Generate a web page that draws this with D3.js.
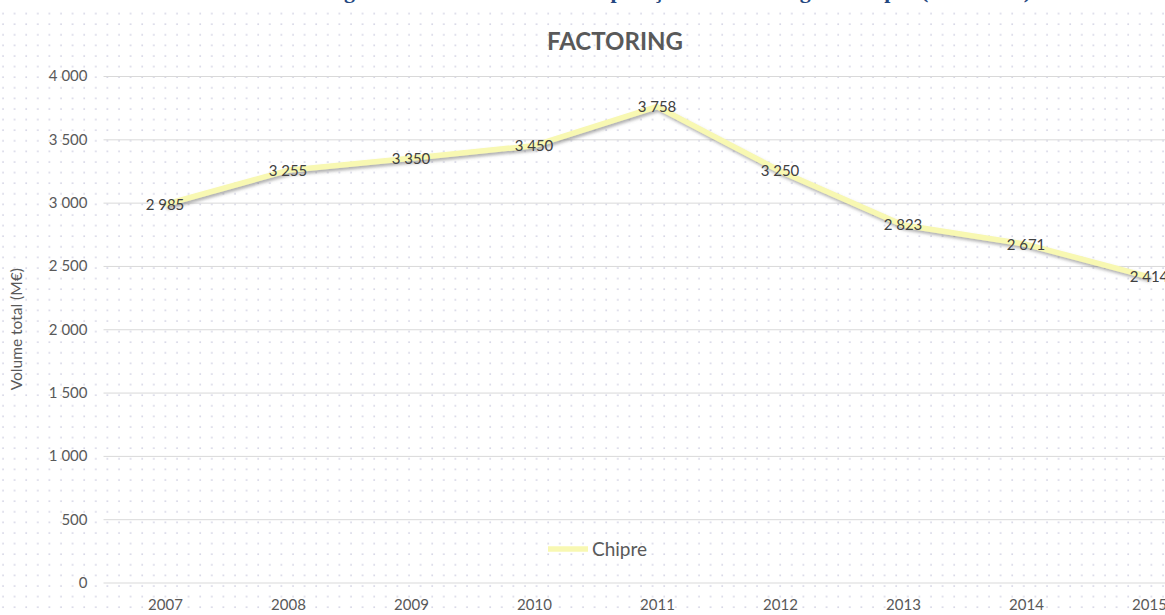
<!DOCTYPE html>
<html>
<head>
<meta charset="utf-8">
<script src="https://cdn.jsdelivr.net/npm/d3@7"></script>
<style>
  html, body { margin: 0; padding: 0; background: #ffffff; overflow: hidden; }
  svg { display: block; }
</style>
</head>
<body>
<svg id="chart" width="1165" height="615"></svg>
<script>
// Factoring volume in Cyprus, yearly totals (M€)
const years = ["2007", "2008", "2009", "2010", "2011", "2012", "2013", "2014", "2015"];
const volume = [2985, 3255, 3350, 3450, 3758, 3250, 2823, 2671, 2414];
const yTicks = [0, 500, 1000, 1500, 2000, 2500, 3000, 3500, 4000];
const seriesName = "Chipre";
const chartTitle = "FACTORING";
const yTitle = "Volume total (M€)";
const caption = "Figura 12 – Volume total das operações de factoring em Chipre (2007-2015)";

const W = 1165, H = 615;
const plot = { left: 103.5, right: 1210.5, top: 76, bottom: 582.5 };

const locale = d3.formatLocale({ decimal: ",", thousands: "\u00a0", grouping: [3], currency: ["", " €"] });
const fmt = locale.format(",d");

const svg = d3.select("#chart");
const defs = svg.append("defs");

// dotted chart-area fill
const pat = defs.append("pattern")
  .attr("id", "dots").attr("patternUnits", "userSpaceOnUse")
  .attr("width", 11.6).attr("height", 10.6);
pat.append("circle").attr("cx", 3).attr("cy", 3).attr("r", 0.9).attr("fill", "#cdcde0");

// soft shadow under the series line
const shadow = defs.append("filter").attr("id", "lineShadow")
  .attr("x", "-5%").attr("y", "-20%").attr("width", "110%").attr("height", "140%");
shadow.append("feDropShadow").attr("dx", 1.5).attr("dy", 2.5).attr("stdDeviation", 1.6)
  .attr("flood-color", "#6f6f6f").attr("flood-opacity", 0.55);

// caption line of the surrounding document, mostly above the frame
svg.append("text")
  .attr("x", 1031).attr("y", -2)
  .attr("text-anchor", "end")
  .attr("font-family", "'Liberation Serif', 'DejaVu Serif', serif")
  .attr("font-size", 22).attr("font-weight", "bold")
  .attr("fill", "#24477f")
  .text(caption);

// chart area
svg.append("rect").attr("x", 0).attr("y", 12).attr("width", W).attr("height", H - 12)
  .attr("fill", "#ffffff");
svg.append("rect").attr("x", 0).attr("y", 12).attr("width", W).attr("height", H - 12)
  .attr("fill", "url(#dots)");

const x = d3.scalePoint().domain(years).range([plot.left, plot.right]).padding(0.5);
const y = d3.scaleLinear().domain([0, 4000]).range([plot.bottom, plot.top]);

// value axis with gridlines
const yAxis = svg.append("g")
  .attr("transform", `translate(${plot.left},0)`)
  .call(d3.axisLeft(y).tickValues(yTicks).tickFormat(fmt)
    .tickSizeInner(-(plot.right - plot.left)).tickSizeOuter(0).tickPadding(16));
yAxis.select(".domain").remove();
yAxis.selectAll(".tick line").attr("stroke", "#d9d9d9").attr("stroke-width", 1);
yAxis.selectAll(".tick text")
  .attr("font-family", "Lato, 'Open Sans', sans-serif").attr("font-size", 15)
  .attr("fill", "#595959");

// category axis
const xAxis = svg.append("g")
  .attr("transform", `translate(0,${plot.bottom})`)
  .call(d3.axisBottom(x).tickSize(0).tickPadding(17));
xAxis.select(".domain").remove();
xAxis.selectAll(".tick text")
  .attr("font-family", "Lato, 'Open Sans', sans-serif").attr("font-size", 15)
  .attr("fill", "#595959");

// series line
const line = d3.line().x((d, i) => x(years[i])).y(d => y(d));
svg.append("path")
  .datum(volume)
  .attr("d", line)
  .attr("fill", "none")
  .attr("stroke", "#f8f8b2")
  .attr("stroke-width", 5.5)
  .attr("stroke-linejoin", "round")
  .attr("filter", "url(#lineShadow)");

// data labels centred on each point
svg.append("g").selectAll("text")
  .data(volume)
  .join("text")
  .attr("x", (d, i) => x(years[i]))
  .attr("y", d => y(d))
  .attr("dy", "0.35em")
  .attr("text-anchor", "middle")
  .attr("font-family", "Lato, 'Open Sans', sans-serif").attr("font-size", 15)
  .attr("fill", "#404040")
  .text(d => fmt(d));

// chart title
svg.append("text")
  .attr("x", 615).attr("y", 50)
  .attr("text-anchor", "middle")
  .attr("font-family", "Lato, 'Open Sans', sans-serif").attr("font-size", 24).attr("font-weight", "bold")
  .attr("fill", "#595959")
  .text(chartTitle);

// value axis title
svg.append("text")
  .attr("transform", `translate(22,${(plot.top + plot.bottom) / 2}) rotate(-90)`)
  .attr("text-anchor", "middle")
  .attr("font-family", "Lato, 'Open Sans', sans-serif").attr("font-size", 15.5)
  .attr("fill", "#595959")
  .text(yTitle);

// legend
const legend = svg.append("g").attr("transform", "translate(548,549)");
legend.append("line").attr("x1", 0).attr("x2", 40).attr("y1", 0).attr("y2", 0)
  .attr("stroke", "#f8f8b2").attr("stroke-width", 5.5);
legend.append("text").attr("x", 44).attr("y", 0).attr("dy", "0.35em")
  .attr("font-family", "Lato, 'Open Sans', sans-serif").attr("font-size", 19)
  .attr("fill", "#595959")
  .text(seriesName);
</script>
</body>
</html>
